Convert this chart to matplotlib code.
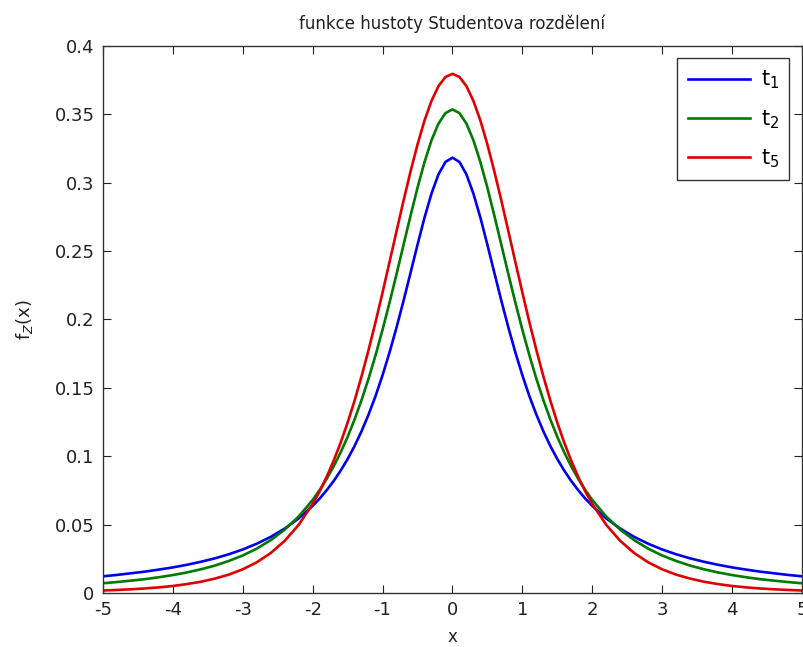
import numpy as np
import matplotlib
matplotlib.use("Agg")
import matplotlib.pyplot as plt
from matplotlib.ticker import FormatStrFormatter

# x >= 0 half of the curves (curves are symmetric)
x_half = [0.0, 0.1, 0.2, 0.3, 0.4, 0.5, 0.6, 0.7, 0.8, 0.9, 1.0, 1.1, 1.2,
          1.3, 1.4, 1.5, 1.6, 1.7, 1.8, 1.9, 2.0, 2.2, 2.4, 2.6, 2.8, 3.0,
          3.2, 3.4, 3.6, 3.8, 4.0, 4.2, 4.4, 4.6, 4.8, 5.0]
t1_half = [0.3183, 0.3152, 0.3061, 0.2920, 0.2744, 0.2546, 0.2340, 0.2136,
           0.1941, 0.1759, 0.1592, 0.1440, 0.1305, 0.1183, 0.1075, 0.0979,
           0.0894, 0.0818, 0.0751, 0.0690, 0.0637, 0.0545, 0.0471, 0.0410,
           0.0360, 0.0318, 0.0283, 0.0253, 0.0228, 0.0206, 0.0187, 0.0171,
           0.0156, 0.0144, 0.0132, 0.0122]
t2_half = [0.3536, 0.3509, 0.3432, 0.3310, 0.3150, 0.2963, 0.2758, 0.2545,
           0.2331, 0.2123, 0.1925, 0.1739, 0.1567, 0.1411, 0.1269, 0.1141,
           0.1027, 0.0925, 0.0834, 0.0753, 0.0680, 0.0559, 0.0463, 0.0386,
           0.0324, 0.0274, 0.0234, 0.0200, 0.0173, 0.0150, 0.0131, 0.0115,
           0.0101, 0.0090, 0.0080, 0.0071]
t5_half = [0.3796, 0.3773, 0.3706, 0.3598, 0.3454, 0.3279, 0.3081, 0.2868,
           0.2645, 0.2420, 0.2197, 0.1981, 0.1777, 0.1585, 0.1407, 0.1245,
           0.1098, 0.0966, 0.0848, 0.0743, 0.0651, 0.0498, 0.0381, 0.0292,
           0.0224, 0.0173, 0.0134, 0.0105, 0.0082, 0.0065, 0.0051, 0.0041,
           0.0033, 0.0027, 0.0022, 0.0018]
labels = ["t$_1$", "t$_2$", "t$_5$"]
colors = ["#0000ee", "#007a00", "#e00000"]


def mirror(vals, neg=False):
    v = np.asarray(vals)
    left = -v[:0:-1] if neg else v[:0:-1]
    return np.concatenate([left, v])


x = mirror(x_half, neg=True)

plt.rcParams['font.family'] = ['DejaVu Sans Condensed', 'Liberation Sans Narrow',
                               'DejaVu Sans']
plt.rcParams['axes.unicode_minus'] = False
plt.rcParams['mathtext.fontset'] = 'dejavusans'

fig = plt.figure(figsize=(8.04, 6.47), dpi=100)
ax = fig.add_axes([0.128, 0.0835, 0.8695, 0.8455])

for ys, lab, c in zip([t1_half, t2_half, t5_half], labels, colors):
    ax.plot(x, mirror(ys), color=c, lw=1.9, label=lab)

ax.set_xlim(-5, 5)
ax.set_ylim(0, 0.4)
ax.set_xticks(np.arange(-5, 6, 1))
ax.set_yticks(np.arange(0, 0.41, 0.05))
ax.yaxis.set_major_formatter(FormatStrFormatter('%g'))
ax.tick_params(direction='in', top=True, right=True, length=6,
               labelsize=13, colors='#222222', width=0.8, pad=6)
for s in ax.spines.values():
    s.set_color('#333333')
    s.set_linewidth(1.0)

ax.set_title("funkce hustoty Studentova rozdělení", fontsize=12, pad=12,
             color='#222222')
ax.set_xlabel("x", fontsize=12, color='#222222', labelpad=6)
ax.set_ylabel("f$_Z$(x)", fontsize=13, color='#222222', labelpad=14)

leg = ax.legend(loc='upper right', fontsize=15, fancybox=False,
                framealpha=1, edgecolor='#333333', handlelength=3.0,
                borderpad=0.5, labelspacing=0.8, borderaxespad=0.6,
                handletextpad=0.5)
leg.get_frame().set_linewidth(1.0)

fig.savefig("out.png", dpi=100)
